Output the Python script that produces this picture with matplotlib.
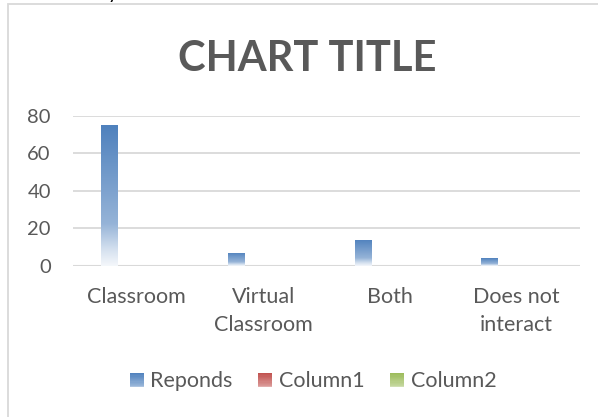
import numpy as np
import matplotlib
matplotlib.use("Agg")
import matplotlib.pyplot as plt
from matplotlib.colors import LinearSegmentedColormap, to_rgb
from matplotlib.patches import Rectangle
from matplotlib.legend_handler import HandlerBase

# data
categories = ["Classroom", "Virtual\nClassroom", "Both", "Does not\ninteract"]
reponds = [75, 7, 14, 4]
column1 = [0, 0, 0, 0]
column2 = [0, 0, 0, 0]
series_names = ["Reponds", "Column1", "Column2"]
series_colors = ["#4F81BD", "#C0504D", "#9BBB59"]

txt = "#595959"
grid = "#D9D9D9"
plt.rcParams['font.family'] = ['Lato', 'DejaVu Sans']


def fade_cmap(c):
    # white at bottom, full colour from about a third of the way up
    c = np.array(to_rgb(c))
    mix = lambda k: tuple(k * c + (1 - k) * np.ones(3))
    return LinearSegmentedColormap.from_list(
        "f", [(0.0, mix(0.06)), (0.12, mix(0.25)), (0.3, mix(0.6)), (1.0, mix(1.0))])


W, H = 598, 417
fig = plt.figure(figsize=(W / 100, H / 100), dpi=100)

# chart frame (only top and left are visible in the crop)
fig.patches.append(Rectangle((8 / W, -0.2), 1.2, 1.2 - 4.5 / H, transform=fig.transFigure,
                             fill=False, ec=grid, lw=1.3))
# cut off text of the document above the chart
fig.text(108 / W, 1 + 1.5 / H, "y", color="black", fontsize=14, va="baseline")

ax = fig.add_axes([73 / W, 1 - 265.7 / H, (580 - 73) / W, (265.7 - 116) / H])
x = np.arange(len(categories))
bw = 0.134
offs = [-0.212, -0.078, 0.056]

grad = np.linspace(0, 1, 256).reshape(-1, 1)
for vals, off, col in zip([reponds, column1, column2], offs, series_colors):
    bars = ax.bar(x + off, vals, bw, color="none", lw=0, zorder=3)
    for b in bars:
        if b.get_height() <= 0:
            continue
        x0, y0 = b.get_x(), b.get_y()
        im = ax.imshow(grad, extent=[x0, x0 + b.get_width(), y0, y0 + b.get_height()],
                       origin="lower", aspect="auto", cmap=fade_cmap(col), zorder=3)
        im.set_clip_path(b)

ax.set_xlim(-0.5, len(categories) - 0.5)
ax.set_ylim(0, 80)
ax.set_yticks([0, 20, 40, 60, 80])
ax.set_xticks(x)
ax.set_xticklabels(categories, linespacing=1.55)
ax.tick_params(axis="x", length=0, pad=15, labelsize=15.5, labelcolor=txt)
ax.tick_params(axis="y", length=0, pad=16, labelsize=14.5, labelcolor=txt)
ax.grid(axis="y", color=grid, lw=1.3, zorder=0)
for s in ax.spines.values():
    s.set_visible(False)
ax.axhline(0, color=grid, lw=1.5, zorder=1)

fig.text(307.5 / W, 1 - 70.7 / H, "CHART TITLE", ha="center", va="baseline",
         fontsize=30, fontweight="bold", color=txt)


class GradHandler(HandlerBase):
    def __init__(self, color):
        super().__init__()
        self.cmap = fade_cmap(color)

    def create_artists(self, legend, orig, xd, yd, width, height, fontsize, trans):
        n = 12
        out = []
        for i in range(n):
            out.append(Rectangle((xd, yd + height * i / n), width, height / n + 0.3,
                                 fc=self.cmap(0.2 + 0.8 * (i + 0.5) / n), lw=0,
                                 transform=trans))
        return out


handles = [Rectangle((0, 0), 1, 1, fc=c) for c in series_colors]
fig.legend(handles, series_names, loc="center", bbox_to_anchor=(313 / W, 1 - 381 / H),
           ncol=3, frameon=False, fontsize=15.5, labelcolor=txt,
           handlelength=0.65, handleheight=0.65, handletextpad=0.3, columnspacing=1.2,
           handler_map={h: GradHandler(c) for h, c in zip(handles, series_colors)})

fig.savefig("out.png", dpi=100)
